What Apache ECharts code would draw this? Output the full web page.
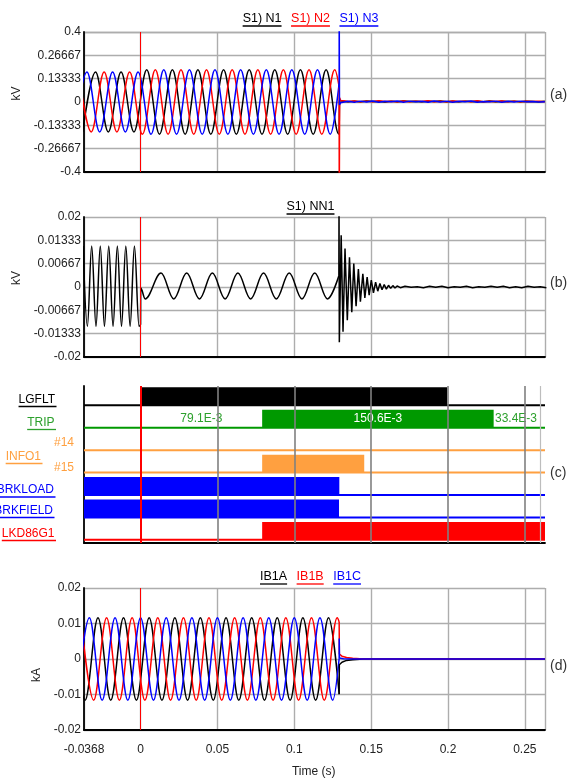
<!DOCTYPE html>
<html>
<head>
<meta charset="utf-8">
<title>Fault record</title>
<script src="https://cdn.jsdelivr.net/npm/echarts@6/dist/echarts.min.js"></script>
<style>
html, body { margin: 0; padding: 0; background: #fff; }
#chart { width: 569px; height: 778px; }
</style>
</head>
<body>
<div id="chart"></div>
<script>
// time span of the record (s)
var xMin = -0.0368, xMax = 0.2631, cursorT = 0;
var xGridT = [0.05, 0.1, 0.15, 0.2, 0.25];

// (a) phase voltages, extrema [t, kV]
var vN1 = [[-0.0377,-0.171],[-0.0293,0.171],[-0.0210,-0.171],[-0.0127,0.171],[-0.0043,-0.171],[0.0040,0.184],[0.0123,-0.184],[0.0207,0.184],[0.0290,-0.184],[0.0373,0.184],[0.0457,-0.184],[0.0540,0.184],[0.0623,-0.184],[0.0707,0.184],[0.0790,-0.184],[0.0873,0.184],[0.0957,-0.184],[0.1040,0.184],[0.1123,-0.184],[0.1207,0.184],[0.1290,-0.184],[0.1292,-0.183]];
var vN2 = [[-0.0404,0.171],[-0.0321,-0.171],[-0.0237,0.171],[-0.0154,-0.171],[-0.0071,0.171],[0.0012,-0.184],[0.0096,0.184],[0.0179,-0.184],[0.0263,0.184],[0.0346,-0.184],[0.0429,0.184],[0.0512,-0.184],[0.0596,0.184],[0.0679,-0.184],[0.0763,0.184],[0.0846,-0.184],[0.0929,0.184],[0.1012,-0.184],[0.1096,0.184],[0.1179,-0.184],[0.1263,0.184],[0.1292,0.085]];
var vN3 = [[-0.0432,-0.171],[-0.0349,0.171],[-0.0266,-0.171],[-0.0182,0.171],[-0.0099,-0.171],[-0.0016,0.171],[0.0068,-0.184],[0.0151,0.184],[0.0234,-0.184],[0.0318,0.184],[0.0401,-0.184],[0.0484,0.184],[0.0568,-0.184],[0.0651,0.184],[0.0734,-0.184],[0.0818,0.184],[0.0901,-0.184],[0.0984,0.184],[0.1068,-0.184],[0.1151,0.184],[0.1234,-0.184],[0.1292,0.106]];
// breaker opening transient
var vN1Open = [[0.1292,-0.183],[0.1294,0.008],[0.1300,0.003]];
var vN2Open = [[0.1292,0.085],[0.12925,-0.6],[0.1295,0.024],[0.1302,0.008]];
var vN3Open = [[0.1292,0.106],[0.12922,0.6],[0.1294,-0.016],[0.1301,-0.004]];
// residual noise after opening, sampled every 4 ms from 0.131 s
var noiseT0 = 0.131, noiseStep = 0.004;
var vN1Noise = [0.006,0.002,0.005,0.001,0.006,0.003,0.004,0.000,0.005,0.002,0.006,0.003,0.004,0.001,0.005,0.003,0.006,0.002,0.004,0.001,0.005,0.003,0.004,0.002,0.006,0.001,0.004,0.003,0.005,0.002,0.004,0.003,0.002,0.004];
var vN2Noise = [0.010,0.003,0.006,0.001,0.005,0.002,0.007,0.003,0.004,0.001,0.006,0.002,0.005,0.003,0.007,0.001,0.004,0.002,0.006,0.003,0.005,0.001,0.007,0.002,0.004,0.003,0.006,0.001,0.005,0.002,0.004,0.003,0.005,0.002];
var vN3Noise = [-0.008,0.004,-0.002,0.005,0.000,0.006,-0.001,0.004,0.001,0.006,-0.002,0.005,0.001,0.004,-0.001,0.006,0.000,0.005,-0.002,0.004,0.001,0.006,-0.001,0.003,0.002,0.005,-0.001,0.004,0.000,0.005,0.001,0.003,0.000,0.002];

// (b) neutral voltage NN1 [t, kV]
var nn1Pre = [[-0.0374,0.0117],[-0.0346,-0.0112],[-0.0318,0.0117],[-0.0290,-0.0112],[-0.0262,0.0117],[-0.0235,-0.0112],[-0.0207,0.0117],[-0.0179,-0.0112],[-0.0151,0.0117],[-0.0124,-0.0112],[-0.0096,0.0117],[-0.0068,-0.0112],[-0.0040,0.0117],[-0.0010,-0.0112],[0.0000,-0.0108]];
var nn1Fault = [[0.0000,-0.0108],[0.0001,-0.0003],[0.0030,-0.0034],[0.0133,0.0040],[0.0216,-0.0034],[0.0300,0.0040],[0.0383,-0.0034],[0.0467,0.0040],[0.0550,-0.0034],[0.0633,0.0040],[0.0716,-0.0034],[0.0800,0.0040],[0.0883,-0.0034],[0.0967,0.0040],[0.1050,-0.0034],[0.1133,0.0040],[0.1216,-0.0034],[0.1290,0.0032]];
var nn1Ring = [[0.1290,0.0032],[0.1291,0.0250],[0.1293,-0.0158],[0.1305,0.0148],[0.1317,-0.0128],[0.1330,0.0110],[0.1345,-0.0095],[0.1359,0.0085],[0.1374,-0.0072],[0.1387,0.0067],[0.1402,-0.0055],[0.1417,0.0051],[0.1430,-0.0042],[0.1446,0.0038],[0.1459,-0.0031],[0.1474,0.0028],[0.1487,-0.0023],[0.1501,0.0020],[0.1515,-0.0017],[0.1529,0.0014],[0.1543,-0.0012],[0.1557,0.0010],[0.1571,-0.0008],[0.1585,0.0007],[0.1599,-0.0006],[0.1613,0.0005],[0.1627,-0.0004],[0.1641,0.0004],[0.1655,-0.0003],[0.1669,0.0003],[0.1690,-0.0002],[0.1720,0.0002],[0.1760,-0.0001]];
var nn1Noise = [0.0001,-0.0002,0.0002,-0.0001,0.0002,-0.0002,0.0001,-0.0001,0.0002,-0.0002,0.0001,-0.0001,0.0002,-0.0001,0.0002,-0.0002,0.0001,-0.0002,0.0002,-0.0001,0.0001,-0.0002];
var nn1NoiseT0 = 0.180;

// (c) digital channels: high intervals [t_on, t_off]
var digNames = ['LGFLT', 'TRIP', 'INFO1 #14', 'INFO1 #15', 'BRKLOAD', 'BRKFIELD', 'LKD86G1'];
var digColors = ['#000000', '#009900', '#ffa040', '#ffa040', '#0000ff', '#0000ff', '#ff0000'];
var digHigh = [
    [[0.0000, 0.1995]],
    [[0.0791, 0.2297]],
    [],
    [[0.0791, 0.1455]],
    [[-0.0368, 0.1293]],
    [[-0.0368, 0.1291]],
    [[0.0791, 0.2631]]
];

// (d) breaker currents, extrema [t, kA]
var iA = [[-0.0444,0.0116],[-0.0361,-0.0116],[-0.0277,0.0116],[-0.0194,-0.0116],[-0.0111,0.0116],[-0.0027,-0.0116],[0.0056,0.0116],[0.0139,-0.0116],[0.0223,0.0116],[0.0306,-0.0116],[0.0389,0.0116],[0.0473,-0.0116],[0.0556,0.0116],[0.0639,-0.0116],[0.0723,0.0116],[0.0806,-0.0116],[0.0889,0.0116],[0.0973,-0.0116],[0.1056,0.0116],[0.1139,-0.0116],[0.1223,0.0116],[0.1292,-0.0099]];
var iB = [[-0.0388,0.0116],[-0.0305,-0.0116],[-0.0221,0.0116],[-0.0138,-0.0116],[-0.0055,0.0116],[0.0028,-0.0116],[0.0112,0.0116],[0.0195,-0.0116],[0.0279,0.0116],[0.0362,-0.0116],[0.0445,0.0116],[0.0528,-0.0116],[0.0612,0.0116],[0.0695,-0.0116],[0.0779,0.0116],[0.0862,-0.0116],[0.0945,0.0116],[0.1028,-0.0116],[0.1112,0.0116],[0.1195,-0.0116],[0.1279,0.0116],[0.1292,0.0104]];
var iC = [[-0.0416,-0.0116],[-0.0333,0.0116],[-0.0250,-0.0116],[-0.0166,0.0116],[-0.0083,-0.0116],[0.0000,0.0116],[0.0084,-0.0116],[0.0167,0.0116],[0.0250,-0.0116],[0.0334,0.0116],[0.0417,-0.0116],[0.0500,0.0116],[0.0584,-0.0116],[0.0667,0.0116],[0.0750,-0.0116],[0.0834,0.0116],[0.0917,-0.0116],[0.1000,0.0116],[0.1084,-0.0116],[0.1167,0.0116],[0.1250,-0.0116],[0.1292,0.0002]];
var iAOpen = [[0.1292,-0.0099],[0.1293,-0.0016],[0.1310,-0.0009],[0.1340,-0.0004],[0.1380,-0.0002],[0.1450,0],[0.2631,0]];
var iBOpen = [[0.1292,0.0104],[0.1293,0.0014],[0.1310,0.0008],[0.1340,0.0004],[0.1380,0.0002],[0.1450,0],[0.2631,0]];
var iCOpen = [[0.1292,0.0002],[0.12925,0.0058],[0.1294,0.0003],[0.1320,0.0001],[0.1400,0],[0.2631,0]];

var FONT = '"Liberation Sans", Arial, sans-serif';
var GRID_GRAY = '#adadad';

function sampled(t0, step, vals) {
    return vals.map(function (v, k) { return [t0 + k * step, v]; });
}

function cursorLine(width) {
    return {
        silent: true, symbol: ['none', 'none'], animation: false,
        label: { show: false },
        lineStyle: { color: '#ff0000', width: width, type: 'solid' },
        emphasis: { disabled: true },
        data: [{ xAxis: cursorT }]
    };
}

function trace(data, color, gi, smooth, extra) {
    var s = {
        type: 'line', xAxisIndex: gi, yAxisIndex: gi, data: data,
        smooth: smooth ? 0.36 : false, smoothMonotone: smooth ? 'x' : undefined,
        showSymbol: false, symbol: 'none', clip: true, silent: true, animation: false,
        lineStyle: { color: color, width: 1.5 }, itemStyle: { color: color }
    };
    if (extra) { for (var k in extra) { s[k] = extra[k]; } }
    return s;
}

function renderDigital(params, api) {
    var i = params.dataIndex;
    var base = 7 - i - 0.86;
    var color = digColors[i];
    var l = api.coord([xMin, base]);
    var r = api.coord([xMax, base]);
    var children = [{
        type: 'line',
        shape: { x1: l[0], y1: l[1], x2: r[0], y2: r[1] },
        style: { stroke: color, lineWidth: 2 }
    }];
    digHigh[i].forEach(function (seg) {
        var p0 = api.coord([seg[0], base + 0.8]);
        var p1 = api.coord([seg[1], base]);
        children.push({
            type: 'rect',
            shape: { x: p0[0], y: p0[1], width: p1[0] - p0[0], height: p1[1] - p0[1] },
            style: { fill: color }
        });
    });
    if (digNames[i] === 'TRIP') {
        var on = digHigh[i][0][0], off = digHigh[i][0][1];
        var spans = [[cursorT, on, '#2ca02c'], [on, off, '#ffffff'], [off, xMax, '#2ca02c']];
        spans.forEach(function (sp) {
            var c = api.coord([(sp[0] + sp[1]) / 2, base + 0.4]);
            children.push({
                type: 'text', x: Math.min(c[0], 516), y: c[1],
                style: {
                    text: ((sp[1] - sp[0]) * 1000).toFixed(1) + 'E-3',
                    fill: sp[2], fontSize: 12, fontFamily: FONT,
                    align: 'center', verticalAlign: 'middle',
                    textAlign: 'center', textVerticalAlign: 'middle'
                }
            });
        });
    }
    return { type: 'group', children: children };
}

var grids = [
    { left: 84, right: 24, top: 32, height: 140 },
    { left: 84, right: 24, top: 217, height: 140 },
    { left: 84, right: 24, top: 386, height: 157 },
    { left: 84, right: 24, top: 588, height: 142 }
];

var xAxes = grids.map(function (g, i) {
    return {
        type: 'value', gridIndex: i, min: xMin, max: xMax, splitNumber: 6,
        axisLine: { show: true, onZero: false, lineStyle: { color: '#000', width: 1.8 } },
        axisTick: { show: false },
        axisLabel: {
            show: i === 3, margin: 14, color: '#222', fontSize: 12, fontFamily: FONT,
            showMinLabel: true, showMaxLabel: false,
            formatter: function (v) { return String(+v.toFixed(4)); }
        },
        splitLine: { show: i !== 2, lineStyle: { color: GRID_GRAY, width: 1.4 } }
    };
});

function yAxis(i, min, max, interval) {
    return {
        type: 'value', gridIndex: i, min: min, max: max, interval: interval,
        axisLine: { show: true, onZero: false, lineStyle: { color: '#000', width: 1.8 } },
        axisTick: { show: false },
        axisLabel: {
            show: interval != null, margin: 3, color: '#222', fontSize: 12, fontFamily: FONT,
            formatter: function (v) { return String(+v.toFixed(5)); }
        },
        splitLine: { show: interval != null, lineStyle: { color: GRID_GRAY, width: 1.4 } }
    };
}

var yAxes = [
    yAxis(0, -0.4, 0.4, 0.4 / 3),
    yAxis(1, -0.02, 0.02, 0.02 / 3),
    yAxis(2, 0, 7, null),
    yAxis(3, -0.02, 0.02, 0.01)
];

var digGrid = xGridT.map(function (t) {
    return { xAxis: t, lineStyle: { color: '#808080', width: 1.6, type: 'solid' } };
});
digGrid.push({ xAxis: xMax, lineStyle: { color: '#bdbdbd', width: 1.2, type: 'solid' } });
digGrid.push({ xAxis: cursorT, lineStyle: { color: '#ff0000', width: 2, type: 'solid' } });

var series = [
    trace(vN1, '#000000', 0, true, { markLine: cursorLine(1) }),
    trace(vN2, '#ff0000', 0, true),
    trace(vN3, '#0000ff', 0, true),
    trace(vN1Open.concat(sampled(noiseT0, noiseStep, vN1Noise)), '#000000', 0, false),
    trace(vN2Open.concat(sampled(noiseT0, noiseStep, vN2Noise)), '#ff0000', 0, false),
    trace(vN3Open.concat(sampled(noiseT0, noiseStep, vN3Noise)), '#0000ff', 0, false),

    trace(nn1Pre, '#000000', 1, true, { markLine: cursorLine(1) }),
    trace(nn1Fault, '#000000', 1, true),
    trace(nn1Ring.concat(sampled(nn1NoiseT0, 0.004, nn1Noise)), '#000000', 1, false),

    {
        type: 'custom', xAxisIndex: 2, yAxisIndex: 2, silent: true, animation: false,
        renderItem: renderDigital,
        data: digNames.map(function (n, i) { return [xMin, i]; }),
        markLine: {
            silent: true, symbol: ['none', 'none'], animation: false,
            label: { show: false }, emphasis: { disabled: true },
            data: digGrid
        }
    },

    trace(iA, '#000000', 3, true, { markLine: cursorLine(1) }),
    trace(iB, '#ff0000', 3, true),
    trace(iC, '#0000ff', 3, true),
    trace(iAOpen, '#000000', 3, false),
    trace(iBOpen, '#ff0000', 3, false),
    trace(iCOpen, '#0000ff', 3, false)
];

// text, legends and channel names
var ctx = document.createElement('canvas').getContext('2d');
function textW(s, size) {
    ctx.font = size + 'px "Liberation Sans"';
    return ctx.measureText(s).width;
}
var graphics = [];
function addText(s, x, y, color, size, align, rot) {
    graphics.push({
        type: 'text', x: x, y: y, rotation: rot || 0, silent: true,
        style: {
            text: s, fill: color, fontSize: size, fontFamily: FONT,
            align: align, verticalAlign: 'middle',
            textAlign: align, textVerticalAlign: 'middle'
        }
    });
}
function addUnderline(x1, x2, y, color) {
    graphics.push({
        type: 'line', silent: true,
        shape: { x1: x1, y1: y, x2: x2, y2: y },
        style: { stroke: color, lineWidth: 1.3 }
    });
}
function legend(items, cy) {
    var size = 12.5, gap = 9.5;
    var widths = items.map(function (it) { return textW(it[0], size); });
    var total = widths.reduce(function (a, b) { return a + b; }, 0) + gap * (items.length - 1);
    var x = 310.5 - total / 2;
    items.forEach(function (it, k) {
        addText(it[0], x, cy, it[1], size, 'left');
        addUnderline(x, x + widths[k], cy + 7.5, it[1]);
        x += widths[k] + gap;
    });
}
function rowLabel(s, color, right, cy) {
    var w = textW(s, 12);
    addText(s, right, cy, color, 12, 'right');
    addUnderline(right - w, right + 1.5, cy + 7, color);
}

legend([['S1) N1', '#000000'], ['S1) N2', '#ff0000'], ['S1) N3', '#0000ff']], 18.5);
legend([['S1) NN1', '#000000']], 206.5);
legend([['IB1A', '#000000'], ['IB1B', '#ff0000'], ['IB1C', '#0000ff']], 576.5);

addText('kV', 16.7, 93.5, '#222', 12, 'center', Math.PI / 2);
addText('kV', 16.7, 278, '#222', 12, 'center', Math.PI / 2);
addText('kA', 36.2, 675, '#222', 12, 'center', Math.PI / 2);
addText('Time (s)', 313.7, 772, '#222', 12, 'center');

addText('(a)', 550, 95, '#333', 14, 'left');
addText('(b)', 550, 283, '#333', 14, 'left');
addText('(c)', 550, 473, '#333', 14, 'left');
addText('(d)', 550, 666.5, '#333', 14, 'left');

rowLabel('LGFLT', '#000000', 55, 399.5);
rowLabel('TRIP', '#2ca02c', 54.5, 422.5);
rowLabel('INFO1', '#ffa040', 41, 456.5);
addText('#14', 54, 443, '#ffa040', 12, 'left');
addText('#15', 54, 467.5, '#ffa040', 12, 'left');
rowLabel('BRKLOAD', '#0000ff', 54, 490);
rowLabel('BRKFIELD', '#0000ff', 53, 510.5);
rowLabel('LKD86G1', '#ff0000', 54.5, 533.5);

var chart = echarts.init(document.getElementById('chart'), null, { renderer: 'canvas' });
chart.setOption({
    animation: false,
    backgroundColor: '#ffffff',
    textStyle: { fontFamily: FONT },
    grid: grids,
    xAxis: xAxes,
    yAxis: yAxes,
    series: series,
    graphic: { elements: graphics }
});
</script>
</body>
</html>
